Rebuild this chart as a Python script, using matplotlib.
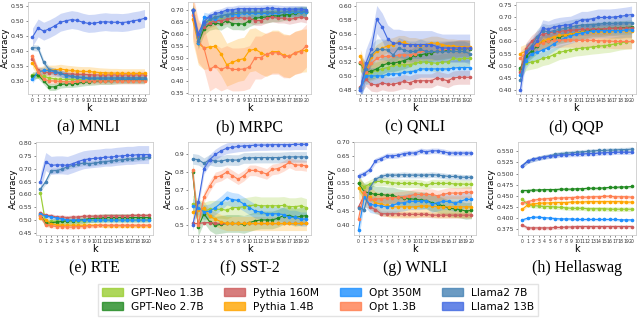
import numpy as np
import matplotlib
matplotlib.use('Agg')
import matplotlib.pyplot as plt
from matplotlib.patches import Patch

k = np.arange(21)

models = ['GPT-Neo 1.3B', 'GPT-Neo 2.7B', 'Pythia 160M', 'Pythia 1.4B',
          'Opt 350M', 'Opt 1.3B', 'Llama2 7B', 'Llama2 13B']
colors = ['yellowgreen', 'forestgreen', 'indianred', 'orange',
          'dodgerblue', 'coral', 'steelblue', 'royalblue']

# accuracy per model, k = 0..20 (order follows `models`)
mnli = [
    [0.320, 0.318, 0.315, 0.310, 0.307, 0.305, 0.305, 0.305, 0.305, 0.305, 0.305, 0.305, 0.305, 0.305, 0.305, 0.305, 0.305, 0.305, 0.305, 0.305, 0.305],
    [0.318, 0.320, 0.300, 0.280, 0.280, 0.288, 0.290, 0.290, 0.292, 0.295, 0.297, 0.298, 0.300, 0.300, 0.300, 0.302, 0.303, 0.303, 0.303, 0.303, 0.303],
    [0.375, 0.335, 0.330, 0.328, 0.327, 0.325, 0.323, 0.323, 0.322, 0.322, 0.321, 0.320, 0.320, 0.320, 0.320, 0.320, 0.320, 0.320, 0.320, 0.320, 0.320],
    [0.360, 0.330, 0.335, 0.337, 0.337, 0.340, 0.337, 0.335, 0.333, 0.332, 0.332, 0.330, 0.328, 0.327, 0.326, 0.326, 0.325, 0.325, 0.325, 0.325, 0.325],
    [0.305, 0.330, 0.335, 0.335, 0.330, 0.325, 0.318, 0.315, 0.312, 0.310, 0.308, 0.307, 0.307, 0.306, 0.306, 0.306, 0.306, 0.306, 0.306, 0.306, 0.306],
    [0.385, 0.330, 0.305, 0.300, 0.300, 0.298, 0.297, 0.297, 0.298, 0.300, 0.300, 0.300, 0.300, 0.300, 0.300, 0.300, 0.300, 0.300, 0.300, 0.300, 0.300],
    [0.412, 0.410, 0.362, 0.338, 0.333, 0.325, 0.320, 0.315, 0.313, 0.312, 0.310, 0.310, 0.310, 0.310, 0.310, 0.310, 0.310, 0.310, 0.310, 0.310, 0.310],
    [0.447, 0.478, 0.467, 0.475, 0.485, 0.497, 0.502, 0.506, 0.503, 0.497, 0.493, 0.494, 0.497, 0.499, 0.497, 0.497, 0.496, 0.498, 0.502, 0.505, 0.510],
]
mrpc = [
    [0.700, 0.580, 0.650, 0.655, 0.670, 0.670, 0.680, 0.680, 0.685, 0.685, 0.690, 0.690, 0.690, 0.690, 0.690, 0.690, 0.690, 0.690, 0.690, 0.690, 0.690],
    [0.700, 0.560, 0.620, 0.640, 0.645, 0.640, 0.655, 0.642, 0.642, 0.640, 0.655, 0.665, 0.668, 0.670, 0.675, 0.675, 0.680, 0.680, 0.685, 0.690, 0.690],
    [0.700, 0.590, 0.630, 0.645, 0.655, 0.655, 0.660, 0.665, 0.670, 0.665, 0.665, 0.655, 0.655, 0.665, 0.670, 0.665, 0.665, 0.660, 0.665, 0.670, 0.665],
    [0.660, 0.560, 0.540, 0.545, 0.547, 0.515, 0.470, 0.480, 0.490, 0.495, 0.530, 0.535, 0.520, 0.510, 0.525, 0.525, 0.510, 0.505, 0.520, 0.528, 0.530],
    [0.700, 0.560, 0.670, 0.665, 0.660, 0.675, 0.680, 0.680, 0.680, 0.685, 0.685, 0.685, 0.685, 0.685, 0.685, 0.685, 0.690, 0.690, 0.690, 0.690, 0.690],
    [0.680, 0.570, 0.540, 0.450, 0.465, 0.450, 0.460, 0.450, 0.450, 0.452, 0.460, 0.500, 0.500, 0.515, 0.520, 0.520, 0.505, 0.505, 0.520, 0.525, 0.550],
    [0.700, 0.570, 0.640, 0.660, 0.670, 0.675, 0.680, 0.685, 0.690, 0.690, 0.690, 0.690, 0.690, 0.690, 0.690, 0.690, 0.690, 0.695, 0.695, 0.695, 0.695],
    [0.700, 0.600, 0.650, 0.675, 0.685, 0.690, 0.700, 0.700, 0.705, 0.705, 0.705, 0.705, 0.705, 0.707, 0.707, 0.705, 0.703, 0.703, 0.703, 0.703, 0.700],
]
qnli = [
    [0.519, 0.500, 0.505, 0.508, 0.510, 0.512, 0.515, 0.516, 0.516, 0.516, 0.518, 0.520, 0.520, 0.519, 0.518, 0.520, 0.520, 0.525, 0.524, 0.525, 0.525],
    [0.519, 0.505, 0.507, 0.510, 0.515, 0.518, 0.518, 0.520, 0.522, 0.525, 0.530, 0.530, 0.532, 0.533, 0.535, 0.535, 0.537, 0.538, 0.539, 0.539, 0.539],
    [0.484, 0.495, 0.488, 0.487, 0.490, 0.488, 0.488, 0.490, 0.492, 0.490, 0.493, 0.493, 0.493, 0.493, 0.497, 0.495, 0.493, 0.497, 0.498, 0.498, 0.498],
    [0.528, 0.505, 0.527, 0.535, 0.540, 0.543, 0.545, 0.548, 0.548, 0.545, 0.545, 0.543, 0.545, 0.547, 0.547, 0.545, 0.543, 0.543, 0.542, 0.542, 0.541],
    [0.480, 0.500, 0.500, 0.500, 0.500, 0.502, 0.503, 0.503, 0.505, 0.506, 0.507, 0.510, 0.510, 0.510, 0.510, 0.510, 0.510, 0.511, 0.512, 0.512, 0.512],
    [0.520, 0.505, 0.518, 0.525, 0.528, 0.528, 0.528, 0.530, 0.530, 0.530, 0.532, 0.535, 0.535, 0.535, 0.535, 0.537, 0.538, 0.538, 0.540, 0.540, 0.540],
    [0.483, 0.510, 0.530, 0.538, 0.538, 0.537, 0.530, 0.540, 0.537, 0.535, 0.535, 0.538, 0.535, 0.535, 0.535, 0.535, 0.535, 0.535, 0.535, 0.535, 0.532],
    [0.480, 0.518, 0.538, 0.581, 0.570, 0.553, 0.547, 0.547, 0.545, 0.545, 0.545, 0.545, 0.545, 0.545, 0.542, 0.540, 0.540, 0.540, 0.540, 0.540, 0.540],
]
qqp = [
    [0.480, 0.510, 0.515, 0.520, 0.530, 0.535, 0.545, 0.555, 0.560, 0.565, 0.570, 0.572, 0.575, 0.578, 0.580, 0.583, 0.585, 0.590, 0.595, 0.598, 0.600],
    [0.490, 0.540, 0.560, 0.580, 0.600, 0.600, 0.610, 0.620, 0.625, 0.630, 0.635, 0.640, 0.645, 0.650, 0.650, 0.652, 0.655, 0.655, 0.657, 0.658, 0.660],
    [0.475, 0.570, 0.600, 0.620, 0.630, 0.635, 0.640, 0.642, 0.645, 0.647, 0.648, 0.650, 0.650, 0.652, 0.652, 0.653, 0.654, 0.655, 0.655, 0.656, 0.657],
    [0.550, 0.560, 0.575, 0.590, 0.600, 0.610, 0.620, 0.625, 0.628, 0.630, 0.635, 0.638, 0.640, 0.640, 0.640, 0.640, 0.640, 0.642, 0.643, 0.645, 0.645],
    [0.460, 0.520, 0.550, 0.555, 0.565, 0.575, 0.590, 0.605, 0.615, 0.622, 0.630, 0.635, 0.640, 0.643, 0.645, 0.645, 0.645, 0.645, 0.645, 0.648, 0.648],
    [0.530, 0.555, 0.575, 0.585, 0.595, 0.600, 0.605, 0.605, 0.607, 0.607, 0.605, 0.605, 0.605, 0.605, 0.603, 0.603, 0.602, 0.600, 0.600, 0.600, 0.600],
    [0.440, 0.560, 0.580, 0.620, 0.645, 0.640, 0.645, 0.650, 0.655, 0.660, 0.665, 0.668, 0.670, 0.670, 0.672, 0.675, 0.675, 0.675, 0.677, 0.678, 0.678],
    [0.400, 0.555, 0.573, 0.600, 0.655, 0.650, 0.660, 0.665, 0.668, 0.670, 0.680, 0.690, 0.690, 0.695, 0.700, 0.700, 0.700, 0.702, 0.705, 0.708, 0.712],
]
rte = [
    [0.607, 0.485, 0.495, 0.495, 0.495, 0.497, 0.497, 0.497, 0.498, 0.500, 0.500, 0.500, 0.500, 0.500, 0.500, 0.500, 0.500, 0.500, 0.500, 0.500, 0.500],
    [0.520, 0.490, 0.490, 0.492, 0.495, 0.497, 0.498, 0.500, 0.502, 0.505, 0.507, 0.508, 0.510, 0.510, 0.510, 0.510, 0.510, 0.510, 0.510, 0.510, 0.510],
    [0.528, 0.518, 0.517, 0.512, 0.512, 0.510, 0.512, 0.512, 0.515, 0.515, 0.515, 0.515, 0.517, 0.517, 0.517, 0.517, 0.517, 0.518, 0.518, 0.518, 0.518],
    [0.510, 0.500, 0.485, 0.482, 0.480, 0.480, 0.480, 0.480, 0.480, 0.480, 0.480, 0.480, 0.478, 0.478, 0.478, 0.478, 0.478, 0.478, 0.478, 0.478, 0.478],
    [0.525, 0.515, 0.513, 0.508, 0.505, 0.500, 0.500, 0.500, 0.500, 0.500, 0.500, 0.500, 0.500, 0.500, 0.500, 0.500, 0.500, 0.500, 0.500, 0.500, 0.500],
    [0.515, 0.482, 0.478, 0.475, 0.475, 0.473, 0.473, 0.475, 0.475, 0.478, 0.478, 0.480, 0.480, 0.480, 0.480, 0.480, 0.480, 0.480, 0.480, 0.480, 0.480],
    [0.620, 0.650, 0.692, 0.693, 0.698, 0.708, 0.713, 0.718, 0.722, 0.720, 0.722, 0.725, 0.728, 0.730, 0.732, 0.735, 0.737, 0.738, 0.740, 0.742, 0.745],
    [0.648, 0.728, 0.713, 0.715, 0.715, 0.713, 0.720, 0.728, 0.735, 0.738, 0.740, 0.742, 0.745, 0.745, 0.748, 0.750, 0.752, 0.752, 0.755, 0.755, 0.755],
]
sst2 = [
    [0.620, 0.600, 0.580, 0.590, 0.590, 0.590, 0.585, 0.600, 0.600, 0.605, 0.610, 0.615, 0.610, 0.610, 0.610, 0.610, 0.612, 0.605, 0.605, 0.610, 0.600],
    [0.800, 0.490, 0.565, 0.520, 0.500, 0.505, 0.510, 0.510, 0.510, 0.505, 0.515, 0.525, 0.530, 0.530, 0.530, 0.540, 0.555, 0.555, 0.545, 0.550, 0.555],
    [0.510, 0.510, 0.515, 0.515, 0.512, 0.510, 0.510, 0.510, 0.510, 0.510, 0.510, 0.510, 0.510, 0.510, 0.510, 0.510, 0.510, 0.510, 0.510, 0.510, 0.510],
    [0.575, 0.585, 0.595, 0.550, 0.535, 0.520, 0.510, 0.510, 0.510, 0.510, 0.510, 0.510, 0.510, 0.510, 0.510, 0.510, 0.510, 0.510, 0.510, 0.510, 0.510],
    [0.610, 0.600, 0.575, 0.580, 0.600, 0.625, 0.655, 0.645, 0.640, 0.620, 0.600, 0.580, 0.575, 0.565, 0.565, 0.565, 0.560, 0.545, 0.545, 0.535, 0.535],
    [0.810, 0.500, 0.660, 0.720, 0.770, 0.780, 0.800, 0.780, 0.760, 0.780, 0.810, 0.810, 0.800, 0.790, 0.815, 0.820, 0.835, 0.855, 0.840, 0.840, 0.835],
    [0.875, 0.870, 0.850, 0.870, 0.862, 0.862, 0.870, 0.868, 0.868, 0.880, 0.880, 0.882, 0.882, 0.882, 0.882, 0.882, 0.884, 0.886, 0.886, 0.886, 0.886],
    [0.500, 0.630, 0.820, 0.870, 0.900, 0.920, 0.935, 0.940, 0.945, 0.948, 0.950, 0.952, 0.953, 0.953, 0.955, 0.955, 0.955, 0.955, 0.957, 0.957, 0.957],
]
wnli = [
    [0.550, 0.538, 0.548, 0.557, 0.557, 0.556, 0.553, 0.550, 0.550, 0.550, 0.550, 0.548, 0.543, 0.550, 0.550, 0.550, 0.550, 0.548, 0.548, 0.547, 0.547],
    [0.550, 0.520, 0.515, 0.510, 0.510, 0.507, 0.507, 0.500, 0.497, 0.495, 0.492, 0.490, 0.488, 0.480, 0.475, 0.468, 0.460, 0.458, 0.455, 0.450, 0.452],
    [0.465, 0.505, 0.465, 0.455, 0.440, 0.440, 0.440, 0.440, 0.438, 0.438, 0.438, 0.438, 0.438, 0.435, 0.435, 0.435, 0.435, 0.435, 0.435, 0.435, 0.435],
    [0.535, 0.505, 0.500, 0.480, 0.475, 0.470, 0.465, 0.465, 0.465, 0.465, 0.465, 0.468, 0.468, 0.468, 0.465, 0.465, 0.465, 0.465, 0.465, 0.465, 0.465],
    [0.380, 0.500, 0.475, 0.470, 0.468, 0.465, 0.470, 0.478, 0.480, 0.485, 0.485, 0.485, 0.488, 0.475, 0.480, 0.485, 0.485, 0.478, 0.485, 0.492, 0.492],
    [0.422, 0.520, 0.492, 0.493, 0.495, 0.497, 0.498, 0.500, 0.502, 0.505, 0.510, 0.510, 0.510, 0.510, 0.505, 0.510, 0.515, 0.515, 0.515, 0.518, 0.518],
    [0.462, 0.455, 0.535, 0.565, 0.575, 0.580, 0.580, 0.580, 0.582, 0.580, 0.580, 0.580, 0.580, 0.582, 0.580, 0.578, 0.575, 0.575, 0.573, 0.572, 0.572],
    [0.577, 0.585, 0.600, 0.632, 0.640, 0.650, 0.650, 0.652, 0.658, 0.660, 0.660, 0.668, 0.665, 0.668, 0.668, 0.665, 0.660, 0.660, 0.660, 0.660, 0.660],
]
hellaswag = [
    [0.442, 0.430, 0.428, 0.427, 0.426, 0.426, 0.425, 0.424, 0.423, 0.422, 0.422, 0.422, 0.421, 0.421, 0.421, 0.421, 0.420, 0.420, 0.420, 0.420, 0.420],
    [0.462, 0.462, 0.463, 0.463, 0.464, 0.464, 0.464, 0.465, 0.465, 0.465, 0.466, 0.466, 0.467, 0.467, 0.467, 0.468, 0.469, 0.469, 0.470, 0.470, 0.471],
    [0.384, 0.378, 0.378, 0.378, 0.378, 0.378, 0.379, 0.379, 0.380, 0.380, 0.381, 0.381, 0.381, 0.381, 0.381, 0.381, 0.381, 0.381, 0.381, 0.381, 0.381],
    [0.420, 0.430, 0.432, 0.433, 0.434, 0.434, 0.435, 0.435, 0.435, 0.436, 0.436, 0.436, 0.437, 0.437, 0.437, 0.437, 0.437, 0.437, 0.437, 0.436, 0.436],
    [0.396, 0.400, 0.402, 0.402, 0.401, 0.400, 0.399, 0.398, 0.398, 0.398, 0.397, 0.397, 0.397, 0.397, 0.397, 0.397, 0.397, 0.397, 0.396, 0.396, 0.396],
    [0.433, 0.437, 0.440, 0.442, 0.443, 0.444, 0.445, 0.445, 0.446, 0.446, 0.447, 0.447, 0.447, 0.448, 0.448, 0.449, 0.449, 0.448, 0.448, 0.448, 0.447],
    [0.518, 0.528, 0.532, 0.535, 0.538, 0.540, 0.543, 0.545, 0.546, 0.547, 0.548, 0.549, 0.550, 0.551, 0.552, 0.552, 0.553, 0.553, 0.554, 0.554, 0.555],
    [0.518, 0.528, 0.532, 0.535, 0.537, 0.539, 0.540, 0.542, 0.542, 0.543, 0.543, 0.544, 0.545, 0.545, 0.546, 0.547, 0.547, 0.548, 0.548, 0.548, 0.548],
]

# half width of the shaded band, one per model
mnli_std = [0.010, 0.012, 0.012, 0.016, 0.012, 0.010, 0.010, 0.030]
mrpc_std = [0.020, 0.025, 0.020, 0.090, 0.020, 0.090, 0.020, 0.015]
qnli_std = [0.012, 0.012, 0.010, 0.010, 0.012, 0.012, 0.015, 0.020]
qqp_std = [0.030, 0.030, 0.025, 0.030, 0.030, 0.030, 0.030, 0.035]
rte_std = [0.010, 0.015, 0.008, 0.008, 0.008, 0.008, 0.010, 0.035]
sst2_std = [0.050, 0.050, 0.005, 0.040, 0.040, 0.030, 0.030, 0.030]
wnli_std = [0.015, 0.030, 0.010, 0.040, 0.030, 0.020, 0.010, 0.010]
hella_std = [0.005, 0.003, 0.004, 0.004, 0.003, 0.004, 0.005, 0.005]

captions = ['(a) MNLI', '(b) MRPC', '(c) QNLI', '(d) QQP',
            '(e) RTE', '(f) SST-2', '(g) WNLI', '(h) Hellaswag']
panel_data = [mnli, mrpc, qnli, qqp, rte, sst2, wnli, hellaswag]
panel_std = [mnli_std, mrpc_std, qnli_std, qqp_std, rte_std, sst2_std, wnli_std, hella_std]
ylims = [(0.256, 0.565), (0.347, 0.733), (0.474, 0.606), (0.382, 0.764),
         (0.442, 0.804), (0.445, 0.97), (0.363, 0.70), (0.362, 0.571)]
yticks = [np.arange(0.30, 0.56, 0.05), np.arange(0.35, 0.71, 0.05),
          np.arange(0.48, 0.601, 0.02), np.arange(0.40, 0.76, 0.05),
          np.arange(0.45, 0.801, 0.05), np.arange(0.5, 0.91, 0.1),
          np.arange(0.40, 0.701, 0.05), np.arange(0.375, 0.551, 0.025)]
ytick_fmt = ['%.2f', '%.2f', '%.2f', '%.2f', '%.2f', '%.1f', '%.2f', '%.3f']

W, H = 640, 319
# axes boxes in pixels: left, top, right, bottom
boxes = [(28, 2, 149, 94), (188, 2, 311, 94), (356, 2, 474, 94), (516, 2, 636, 94),
         (36, 142, 153, 235), (188, 142, 311, 235), (354, 142, 476, 235), (518, 142, 636, 235)]

fig = plt.figure(figsize=(6.4, 3.19), dpi=100)

for i in range(8):
    l, t, r, b = boxes[i]
    ax = fig.add_axes([l / W, 1 - b / H, (r - l) / W, (b - t) / H])
    for j in range(len(models)):
        y = np.array(panel_data[i][j])
        s = panel_std[i][j]
        ax.fill_between(k, y - s, y + s, color=colors[j], alpha=0.25, lw=0)
        ax.plot(k, y, color=colors[j], lw=0.8, marker='o', ms=1.6)
    ax.set_xlim(-0.8, 20.8)
    ax.set_ylim(*ylims[i])
    ax.set_xticks(k)
    ax.set_xticklabels([str(v) for v in k], fontsize=3.3)
    ax.set_yticks(yticks[i])
    ax.set_yticklabels([ytick_fmt[i] % v for v in yticks[i]], fontsize=4.4)
    ax.tick_params(axis='both', length=1.5, width=0.4, pad=1.2, colors='#333333')
    for sp in ax.spines.values():
        sp.set_color('#cccccc')
        sp.set_linewidth(0.6)
    ax.set_xlabel('k', fontsize=7, labelpad=0.5)
    ax.set_ylabel('Accuracy', fontsize=6.4, labelpad=0.8)
    cx = (l + r) / 2 / W
    cy = 1 - (127 if i < 4 else 268) / H
    fig.text(cx, cy, captions[i], ha='center', va='center',
             fontsize=11.5, family='Liberation Serif')

handles = [Patch(facecolor=c, alpha=0.8, edgecolor=c) for c in colors]
fig.legend(handles, models, loc='center', bbox_to_anchor=(318 / W, 1 - 300 / H),
           ncol=4, fontsize=7.7, frameon=True, handlelength=2.0, handleheight=0.75,
           handletextpad=0.75, columnspacing=1.9, labelspacing=0.35, borderpad=0.35,
           fancybox=False, edgecolor='#dddddd')

fig.savefig('out.png', dpi=100)
